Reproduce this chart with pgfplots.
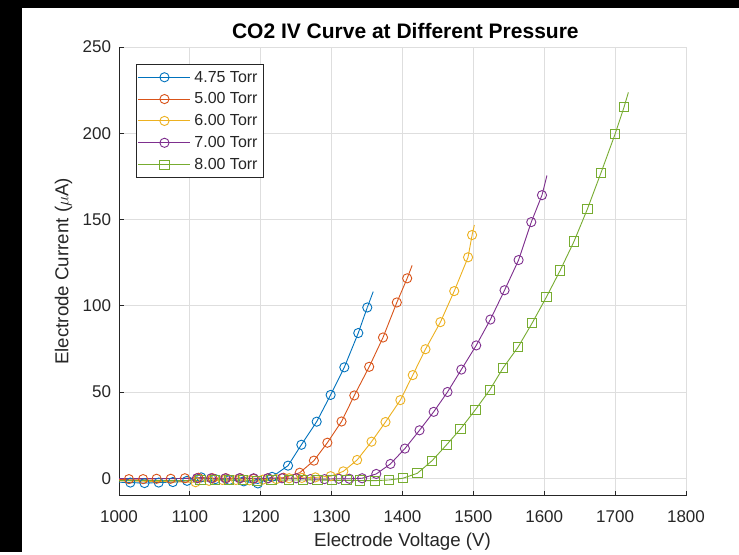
\documentclass[border=0pt]{standalone}
\usepackage{fontspec}
\setmainfont{Liberation Sans}
\usepackage{pgfplots}
\pgfplotsset{compat=1.18}
\definecolor{mblue}{rgb}{0,0.447,0.741}
\definecolor{morange}{rgb}{0.85,0.325,0.098}
\definecolor{myellow}{rgb}{0.929,0.694,0.125}
\definecolor{mpurple}{rgb}{0.494,0.184,0.556}
\definecolor{mgreen}{rgb}{0.466,0.674,0.188}
\definecolor{axgray}{rgb}{0.15,0.15,0.15}
\definecolor{gridgray}{rgb}{0.87,0.87,0.87}
\begin{document}
\begin{tikzpicture}[x=1pt,y=1pt]
\fill[white] (0,0) rectangle (739,552);
\fill[black] (0,0) rectangle (22,552);
\fill[black] (0,544) rectangle (739,552);
\begin{axis}[
  at={(119pt,56.5pt)}, anchor=south west,
  scale only axis, width=567pt, height=448.5pt,
  xmin=1000, xmax=1800, ymin=-10, ymax=250,
  xtick={1000,1100,...,1800}, ytick={0,50,...,250},
  axis x line*=bottom, axis y line*=left,
  axis line style={draw=axgray, line width=0.8pt, -},
  tick align=inside, major tick length=5pt,
  tick style={draw=axgray, line width=0.8pt},
  grid=major, major grid style={draw=gridgray, line width=0.8pt},
  /pgf/number format/assume math mode=true,
  /pgf/number format/1000 sep={},
  ticklabel style={font=\fontsize{17}{20}\selectfont, text=axgray},
  xticklabel style={yshift=-12pt},
  yticklabel style={xshift=-4.5pt},
  title={\textbf{CO2 IV Curve at Different Pressure}},
  title style={font=\fontsize{21}{24}\selectfont, at={(axis description cs:0.505,1.022)}, anchor=center},
  xlabel={Electrode Voltage (V)},
  ylabel={Electrode Current ($\mu$A)},
  xlabel style={font=\fontsize{18.7}{22}\selectfont, text=axgray, at={(axis description cs:0.5,-0.1037)}, anchor=center},
  ylabel style={font=\fontsize{18.7}{22}\selectfont, text=axgray, at={(axis description cs:-0.0979,0.5)}, anchor=center, rotate=0},
  every axis plot/.append style={line width=0.9pt, mark size=4.6pt},
  mark options={solid, line width=0.9pt},
  legend image code/.code={\draw[mark repeat=2,mark phase=2,#1] plot coordinates {(0pt,0pt) (26pt,0pt) (52pt,0pt)};},
  legend cell align=left,
  legend style={at={(rel axis cs:0.0295,0.9614)}, anchor=north west, draw=axgray, fill=white, line width=0.6pt,
    font=\fontsize{16}{19}\selectfont, text=axgray, inner xsep=2pt, inner ysep=1.8pt,
    nodes={inner xsep=3.5pt, inner ysep=4.6pt}},
]
% 4.75 Torr
\addplot[mblue, no marks, forget plot] coordinates {(1000,-2.3) (1016,-2.5)};
\addplot[mblue, mark=o] coordinates {
(1016,-2.5) (1036,-2.8) (1056,-2.5) (1076,-2.2) (1096,-1.5) (1116,0.5) (1136,-0.5) (1156,-1) (1176,-1.8) (1196,-3) (1216,0.8)
(1238.5,7.3) (1257.3,19.4) (1278.9,32.8) (1298.6,48.3) (1317.9,64.3) (1337.6,84.2) (1350.3,99.0)};
\addplot[mblue, no marks, forget plot] coordinates {(1350.3,99.0) (1358.7,108.2)};
\addlegendentry{4.75 Torr}
% 5.00 Torr
\addplot[morange, no marks, forget plot] coordinates {(1000,-0.5) (1014,-0.5)};
\addplot[morange, mark=o] coordinates {
(1014,-0.5) (1034,-0.5) (1053,-0.3) (1073,-0.3) (1093,0) (1112,0.3) (1132,0) (1151,0) (1171,0) (1190,-0.3) (1210,0) (1232,0.3)
(1255,3.2) (1275,10.2) (1294,20.6) (1314,32.9) (1332,48) (1353,64.6) (1372.5,81.6) (1392,101.9) (1406.6,115.9)};
\addplot[morange, no marks, forget plot] coordinates {(1406.6,115.9) (1413.6,123.4)};
\addlegendentry{5.00 Torr}
% 6.00 Torr
\addplot[myellow, no marks, forget plot] coordinates {(1000,-1.5) (1108,-2.3)};
\addplot[myellow, mark=o] coordinates {
(1108,-2.3) (1127,-1.5) (1146,-1) (1165,-1) (1184,-1.2) (1203,-0.8) (1222,-0.5) (1240,0) (1258,0.2) (1277,0.5) (1298.6,1.2)
(1316.5,4.0) (1336,10.6) (1356.3,21.2) (1376,32.6) (1397,45.3) (1414.5,59.8) (1432.4,74.8) (1453.5,90.5) (1473,108.5) (1492.5,128.1) (1498.2,141)};
\addplot[myellow, no marks, forget plot] coordinates {(1498.2,141) (1501.4,146.8)};
\addlegendentry{6.00 Torr}
% 7.00 Torr
\addplot[mpurple, no marks, forget plot] coordinates {(1000,0) (1110,0)};
\addplot[mpurple, mark=o] coordinates {
(1110,0) (1130,0) (1150,0) (1170,0) (1190,0) (1210,0) (1230,0) (1250,0) (1270,-0.5) (1290,-0.5) (1310,-0.3) (1325,-0.3) (1343,0)
(1363,2.5) (1383,8.3) (1403.4,17.2) (1424,27.8) (1444,38.5) (1463.5,50) (1483,63) (1504,77) (1524,92) (1544,109) (1563.8,126.5) (1581.7,148.5) (1596.8,164.1)};
\addplot[mpurple, no marks, forget plot] coordinates {(1596.8,164.1) (1603.8,175.5)};
\addlegendentry{7.00 Torr}
% 8.00 Torr
\addplot[mgreen, no marks, forget plot] coordinates {(1000,-1) (1115,-1)};
\addplot[mgreen, mark=square] coordinates {
(1115,-1) (1135,-1) (1155,-1) (1175,-1) (1195,-1.5) (1215,-1.2) (1240,-1) (1260,-1) (1280,-1) (1300,-1.2) (1321,-1.2) (1340,-1.3) (1360.6,-1.4) (1380.7,-1)
(1400.6,0) (1421,2.9) (1441.8,10.2) (1462,19.3) (1481.7,28.5) (1502.8,39.7) (1523,51.1) (1542,64) (1563,76) (1583,90) (1603,105) (1622.5,120.5) (1642,137.3) (1661,156.2) (1680,177) (1700,199.6) (1712.7,215.3)};
\addplot[mgreen, no marks, forget plot] coordinates {(1712.7,215.3) (1718.7,223.7)};
\addlegendentry{8.00 Torr}
\end{axis}
\end{tikzpicture}
\end{document}
